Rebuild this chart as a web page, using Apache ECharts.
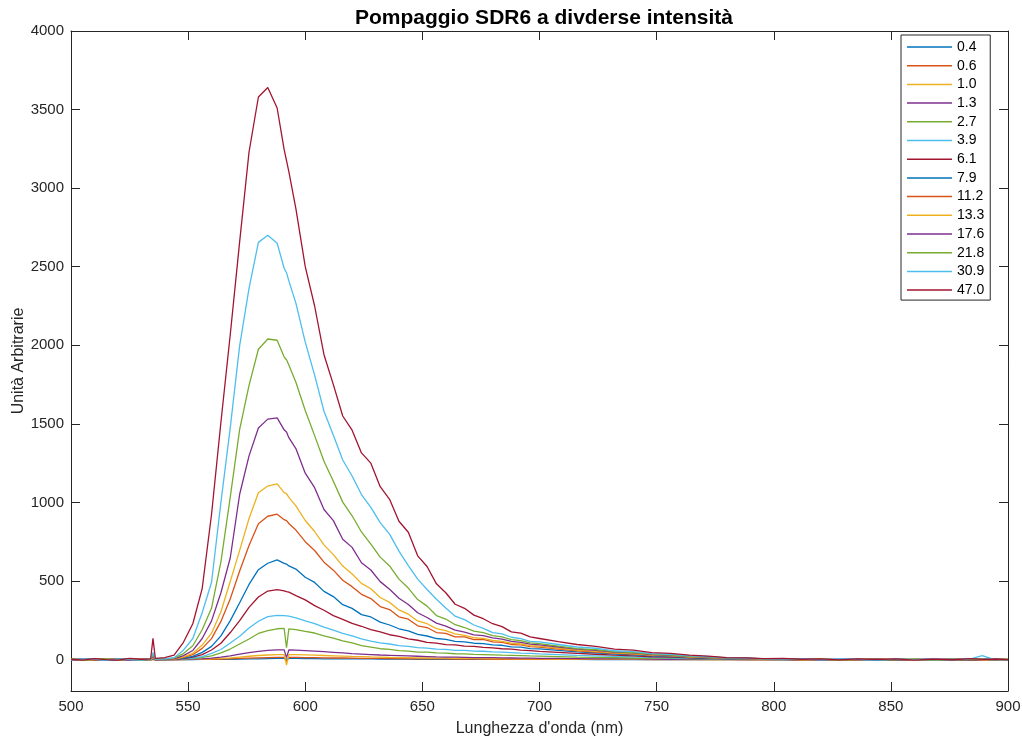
<!DOCTYPE html>
<html>
<head>
<meta charset="utf-8">
<script src="https://cdn.jsdelivr.net/npm/echarts@6/dist/echarts.min.js"></script>
<style>
  html, body { margin: 0; padding: 0; background: #ffffff; }
  #chart { width: 1022px; height: 740px; }
</style>
</head>
<body>
<div id="chart"></div>
<script>
// Wavelength sampling (nm) shared by every spectrum
const wavelengths = [
  500, 505, 510, 515, 520, 525, 530, 534, 535, 536,
  540, 544, 548, 552, 556, 560, 564, 568, 572, 576, 580, 584, 588, 591, 592, 593,
  596, 600, 604, 608, 612, 616, 620, 624, 628, 632, 636, 640, 644, 648, 652, 656,
  660, 664, 668, 672, 676, 680, 684, 688, 692, 696, 700,
  708, 716, 724, 732, 740, 748, 756, 764, 772, 780, 788, 796, 804, 812, 820, 828,
  836, 844, 852, 860, 868, 876, 884, 889, 894, 900
];

// Pump intensity of each spectrum (legend entries)
const intensities = ['0.4', '0.6', '1.0', '1.3', '2.7', '3.9', '6.1', '7.9', '11.2', '13.3', '17.6', '21.8', '30.9', '47.0'];

// Emission spectra (arbitrary units), one array per pump intensity
const s0_4 = [
  1, 0, 0, -1, 0, 1, 0, 0, 1, 0,
  0, 0, 0, 0, 1, 1, 2, 2, 3, 4, 5, 6, 7, 7, 3, 7, 7, 6, 6, 5, 5, 5, 4, 4, 4, 3, 3, 3, 3, 2, 2, 2, 2, 2, 1, 1, 1, 1, 1, 1, 1, 1, 1,
  1, 1, 0, 1, 0, 0, 0, 0, 0, 0, 0, 0, 0, 0, 0, 0, 0, 0, 0, 0, 0, 0, 0, 0, 0, 0
];
const s0_6 = [
  0, 1, -1, 0, 1, 0, -1, 1, 1, 0,
  0, 0, 0, 1, 1, 2, 3, 5, 7, 9, 11, 13, 14, 14, -12, 14, 14, 13, 12, 11, 10, 10, 9, 8, 8, 7, 6, 6, 5, 5, 4, 4, 4, 3, 3, 3, 3, 2, 2, 2, 2, 2, 2,
  1, 1, 1, 1, 1, 0, 1, 0, 0, 0, 0, 0, -1, 0, 0, 0, 1, 0, 0, -1, 0, 0, 0, 1, 0, 0
];
const s1_0 = [
  -2, 0, 1, -1, 2, -1, 1, 0, 2, -1,
  0, 0, 1, 1, 2, 4, 7, 11, 16, 21, 26, 29, 31, 32, -35, 31, 31, 30, 28, 26, 24, 22, 20, 19, 17, 16, 14, 13, 12, 11, 10, 9, 9, 8, 7, 7, 6, 6, 6, 5, 5, 4, 4,
  3, 3, 2, 2, 2, 1, 1, 1, 0, 1, 0, -1, 0, 1, 0, -1, 0, 0, 1, 0, -1, 0, 1, 0, 0, 0
];
const s1_3 = [
  1, -1, 0, 2, -1, 1, 0, -2, 3, 1,
  0, 0, 1, 3, 5, 9, 15, 24, 34, 44, 52, 58, 62, 62, 12, 61, 60, 57, 54, 50, 46, 42, 38, 35, 32, 29, 27, 25, 23, 21, 19, 17, 16, 15, 14, 13, 12, 12, 11, 10, 9, 9, 8,
  7, 6, 5, 4, 4, 3, 2, 2, 1, 1, 0, 1, 0, -1, 0, 1, 0, -1, 0, 0, 1, 0, -1, 0, 1, 0
];
const s2_7 = [
  -1, 1, 2, -2, 3, 0, -1, 2, 5, 0,
  0, 1, 3, 6, 14, 24, 43, 67, 99, 131, 166, 184, 196, 198, 75, 196, 191, 179, 169, 151, 137, 119, 106, 89, 79, 69, 65, 57, 54, 48, 47, 42, 41, 37, 36, 33, 32, 30, 28, 27, 25, 23, 22,
  19, 16, 14, 12, 10, 8, 7, 5, 4, 2, 2, 1, 0, 1, -1, 0, 1, -1, 0, 1, 0, -1, 1, 0, 0, 1
];
const s3_9 = [
  2, 0, -2, 3, 1, -3, 2, -1, 6, 1,
  0, 1, 4, 10, 19, 39, 64, 106, 149, 201, 244, 273, 281, 280, 278, 276, 266, 247, 229, 206, 187, 167, 151, 132, 118, 106, 99, 89, 84, 76, 73, 67, 65, 59, 58, 54, 53, 49, 47, 44, 41, 39, 36,
  32, 27, 24, 20, 17, 13, 11, 8, 6, 3, 3, 1, 0, 2, -1, 1, 0, -2, 1, 0, 2, -1, 1, 0, -1, 0
];
const s6_1 = [
  0, 2, -3, 1, -1, 3, -2, 0, 8, 2,
  0, 2, 6, 15, 31, 61, 104, 172, 248, 332, 398, 436, 445, 437, 432, 429, 407, 380, 343, 314, 280, 256, 230, 212, 190, 176, 158, 147, 132, 123, 110, 105, 95, 93, 85, 84, 77, 75, 69, 66, 60, 57, 52,
  46, 39, 34, 28, 24, 18, 15, 11, 8, 5, 4, 1, 2, -1, 1, 0, -2, 1, 2, -1, 0, 1, -2, 0, 1, 0
];
const s7_9 = [
  1, -2, 3, -3, 0, 2, -1, 3, 10, 0,
  1, 2, 9, 20, 46, 84, 151, 248, 362, 478, 572, 613, 634, 612, 608, 596, 576, 524, 491, 434, 401, 349, 326, 286, 271, 238, 220, 196, 182, 160, 150, 134, 128, 116, 113, 104, 101, 93, 91, 81, 79, 70, 68,
  58, 49, 42, 35, 30, 23, 19, 14, 10, 6, 5, 2, 1, 3, -1, 0, 2, -2, 1, 0, -1, 2, 0, 3, -1, 0
];
const s11_2 = [
  -1, 3, -2, 1, 4, -3, 0, 2, 12, -1,
  1, 2, 14, 31, 71, 133, 243, 387, 564, 726, 864, 912, 925, 890, 884, 866, 824, 750, 694, 620, 569, 505, 464, 415, 388, 337, 318, 272, 257, 215, 204, 172, 167, 144, 145, 127, 128, 112, 109, 96, 93, 82, 79,
  67, 56, 48, 40, 35, 27, 23, 16, 12, 7, 6, 2, 3, 0, 2, -2, 1, 3, -1, 0, 2, -3, 1, 0, 2, -1
];
const s13_3 = [
  2, -3, 0, 4, -2, 1, 3, -1, 15, 2,
  2, 3, 17, 40, 92, 168, 304, 498, 695, 898, 1062, 1104, 1118, 1062, 1056, 1032, 978, 885, 815, 730, 668, 595, 545, 485, 451, 395, 364, 316, 289, 246, 228, 197, 184, 163, 154, 139, 135, 122, 116, 104, 99, 89, 85,
  72, 60, 52, 43, 38, 29, 25, 18, 13, 8, 6, 3, 4, -1, 2, 0, -2, 3, 1, -3, 2, 0, 3, -2, 1, 0
];
const s17_6 = [
  -3, 2, 4, -1, 3, -4, 1, 3, 20, -2,
  3, 5, 25, 58, 134, 246, 425, 648, 1052, 1296, 1474, 1530, 1538, 1462, 1448, 1412, 1343, 1186, 1094, 955, 884, 766, 714, 616, 570, 496, 448, 390, 350, 298, 268, 232, 213, 187, 175, 157, 152, 138, 130, 116, 110, 98, 93,
  80, 66, 58, 47, 42, 32, 27, 20, 15, 9, 8, 4, 2, 5, -2, 3, 0, 4, -3, 1, 3, -1, 2, 0, 4, 1
];
const s21_8 = [
  4, -3, 2, 5, -2, 3, -4, 2, 30, 1,
  4, 9, 38, 88, 190, 328, 622, 1035, 1465, 1745, 1975, 2040, 2032, 1925, 1908, 1875, 1765, 1585, 1425, 1262, 1135, 1002, 915, 812, 735, 652, 596, 512, 455, 382, 340, 280, 258, 222, 204, 181, 171, 152, 145, 127, 120, 106, 101,
  86, 70, 63, 50, 45, 35, 29, 21, 17, 10, 12, 3, 6, 0, 4, -2, 3, 1, -1, 4, -3, 2, 0, 3, 1, 2
];
const s30_9 = [
  -2, 5, 1, -5, 4, 0, -3, 4, 45, 3,
  5, 12, 60, 134, 298, 492, 1000, 1478, 1998, 2362, 2655, 2700, 2650, 2490, 2462, 2410, 2268, 2020, 1810, 1580, 1428, 1270, 1168, 1050, 968, 872, 798, 690, 598, 512, 446, 384, 328, 276, 254, 220, 198, 172, 164, 142, 133, 116, 112,
  96, 80, 72, 56, 51, 38, 33, 24, 19, 11, 10, 5, 3, 6, -1, 4, 1, -3, 5, 0, 2, -2, 4, 25, 1, -1
];
const s47_0 = [
  3, -4, 6, 0, -3, 8, 2, 5, 135, 8,
  12, 28, 110, 228, 452, 925, 1510, 2070, 2660, 3230, 3580, 3640, 3510, 3245, 3175, 3105, 2870, 2500, 2250, 1940, 1750, 1550, 1460, 1315, 1250, 1100, 1020, 880, 810, 660, 592, 482, 425, 352, 326, 283, 260, 228, 210, 176, 168, 144, 134,
  114, 96, 84, 66, 60, 44, 40, 28, 22, 12, 11, 6, 7, 2, 5, -2, 4, 0, 5, -3, 3, -1, 6, 1, 3, 0
];

const spectra = [s0_4, s0_6, s1_0, s1_3, s2_7, s3_9, s6_1, s7_9, s11_2, s13_3, s17_6, s21_8, s30_9, s47_0];

// Axis ticks
const xTicks = [500, 550, 600, 650, 700, 750, 800, 850, 900];
const yTicks = [0, 500, 1000, 1500, 2000, 2500, 3000, 3500, 4000];

// Default MATLAB line colour order
const palette = ['#0072BD', '#D95319', '#EDB120', '#7E2F8E', '#77AC30', '#4DBEEE', '#A2142F'];

spectra.forEach(function (s, i) {
  if (s.length !== wavelengths.length) {
    throw new Error('spectrum ' + intensities[i] + ' has ' + s.length + ' samples, expected ' + wavelengths.length);
  }
});

const axisColor = '#262626';
const font = 'Liberation Sans, Helvetica, Arial, sans-serif';

const series = spectra.map(function (s, i) {
  return {
    name: intensities[i],
    type: 'line',
    xAxisIndex: 0,
    yAxisIndex: 0,
    symbol: 'none',
    showSymbol: false,
    smooth: false,
    animation: false,
    color: palette[i % palette.length],
    lineStyle: { width: 1.3, color: palette[i % palette.length] },
    data: wavelengths.map(function (w, k) { return [w, s[k]]; })
  };
});

const chart = echarts.init(document.getElementById('chart'), null, { renderer: 'canvas' });

const plainNumber = function (v) { return String(v); };

chart.setOption({
  animation: false,
  backgroundColor: '#ffffff',
  textStyle: { fontFamily: font },
  title: {
    text: 'Pompaggio SDR6 a divderse intensità',
    left: 539,
    textAlign: 'center',
    top: 3,
    textStyle: { fontFamily: font, fontWeight: 'bold', fontSize: 21, color: '#000000' }
  },
  grid: { left: 71, right: 14, top: 31, bottom: 49, containLabel: false, outerBoundsMode: 'none' },
  legend: {
    data: intensities,
    orient: 'vertical',
    left: 901,
    top: 35,
    padding: [5, 6, 3, 6],
    icon: 'rect',
    itemWidth: 45,
    itemHeight: 1.5,
    itemGap: 4.7,
    backgroundColor: '#ffffff',
    borderColor: axisColor,
    borderWidth: 1,
    borderRadius: 0,
    textStyle: { fontFamily: font, fontSize: 14, color: '#000000', lineHeight: 14 },
    selectedMode: false
  },
  xAxis: [
    {
      type: 'value', position: 'bottom', min: 500, max: 900, interval: 50,
      name: "Lunghezza d'onda (nm)", nameLocation: 'middle', nameGap: 30, nameMoveOverlap: false,
      nameTextStyle: { fontFamily: font, fontSize: 16, color: axisColor },
      axisLine: { show: true, onZero: false, lineStyle: { color: axisColor, width: 1 } },
      axisTick: { show: true, inside: true, length: 9, lineStyle: { color: axisColor, width: 1 } },
      axisLabel: { show: true, color: axisColor, fontSize: 15, fontFamily: font, margin: 8, formatter: plainNumber },
      splitLine: { show: false }
    },
    {
      type: 'value', position: 'top', min: 500, max: 900, interval: 50,
      axisLine: { show: true, onZero: false, lineStyle: { color: axisColor, width: 1 } },
      axisTick: { show: true, inside: true, length: 9, lineStyle: { color: axisColor, width: 1 } },
      axisLabel: { show: false },
      splitLine: { show: false }
    }
  ],
  yAxis: [
    {
      type: 'value', position: 'left', min: -200, max: 4000,
      name: 'Unità Arbitrarie', nameLocation: 'middle', nameGap: 44, nameRotate: 90, nameMoveOverlap: false,
      nameTextStyle: { fontFamily: font, fontSize: 16, color: axisColor },
      axisLine: { show: true, onZero: false, lineStyle: { color: axisColor, width: 1 } },
      axisTick: { show: true, inside: true, length: 9, customValues: yTicks, lineStyle: { color: axisColor, width: 1 } },
      axisLabel: { show: true, color: axisColor, fontSize: 15, fontFamily: font, margin: 7, customValues: yTicks, formatter: plainNumber },
      splitLine: { show: false }
    },
    {
      type: 'value', position: 'right', min: -200, max: 4000,
      axisLine: { show: true, onZero: false, lineStyle: { color: axisColor, width: 1 } },
      axisTick: { show: true, inside: true, length: 9, customValues: yTicks, lineStyle: { color: axisColor, width: 1 } },
      axisLabel: { show: false, customValues: yTicks },
      splitLine: { show: false }
    }
  ],
  series: series
});
</script>
</body>
</html>
